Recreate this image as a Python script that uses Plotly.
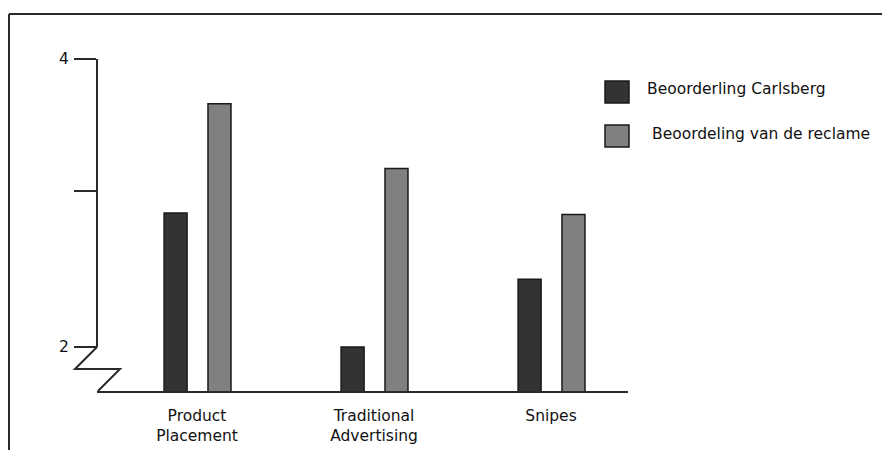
import plotly.graph_objects as go

# Ratings per placement type
categories = ["Product<br>Placement", "Traditional<br>Advertising", "Snipes"]
carlsberg = [2.93, 2.0, 2.47]
reclame = [3.69, 3.24, 2.92]
series_names = ["Beoorderling Carlsberg", "Beoordeling van de reclame"]
tick_values = [2, 3.08, 4]
tick_labels = ["2", "", "4"]

W, H = 882, 450
L, R, T, B = 97, 628, 59, 391   # plot area in pixels
Y_MIN, Y_MAX = 1.694, 4.0

DARK = "#333333"
MID = "#808080"
EDGE = "#1a1a1a"
LINE = "#2a2a2a"
FONT = "DejaVu Sans"
TEXT_SIZE = 15.5


def px(x):
    return (x - L) / (R - L)


def py(y):
    return (B - y) / (B - T)


x_pos = list(range(len(categories)))

fig = go.Figure()
fig.add_trace(go.Bar(
    x=x_pos, y=carlsberg, name=series_names[0], width=0.13, offset=-0.186,
    marker=dict(color=DARK, line=dict(color=EDGE, width=1.5)), showlegend=False,
))
fig.add_trace(go.Bar(
    x=x_pos, y=reclame, name=series_names[1], width=0.13, offset=0.062,
    marker=dict(color=MID, line=dict(color=EDGE, width=1.5)), showlegend=False,
))

shapes = []
# outer frame (top and left edges)
shapes.append(dict(type="line", xref="paper", yref="paper",
                   x0=px(9), x1=px(W + 5), y0=py(14), y1=py(14),
                   line=dict(color=LINE, width=2)))
shapes.append(dict(type="line", xref="paper", yref="paper",
                   x0=px(9), x1=px(9), y0=py(14), y1=py(H + 5),
                   line=dict(color=LINE, width=2)))
# value axis from 2 to 4
shapes.append(dict(type="line", xref="paper", yref="y",
                   x0=0, x1=0, y0=tick_values[0], y1=tick_values[-1],
                   line=dict(color=LINE, width=2)))
# axis break zigzag down to the baseline
zig = [(97, 347), (75, 369), (120, 369), (98, 391)]
path = "M " + " L ".join(f"{px(a):.5f},{py(b):.5f}" for a, b in zig)
shapes.append(dict(type="path", xref="paper", yref="paper", path=path,
                   line=dict(color=LINE, width=2)))

# legend boxes and labels
legend_rows = [(81, 103, DARK, 645, 89), (125, 147, MID, 650, 134)]
annotations = []
for (top, bot, col, tx, ty), name in zip(legend_rows, series_names):
    shapes.append(dict(type="rect", xref="paper", yref="paper",
                       x0=px(605), x1=px(629), y0=py(bot), y1=py(top),
                       fillcolor=col, line=dict(color=EDGE, width=1.5)))
    annotations.append(dict(xref="paper", yref="paper", x=px(tx), y=py(ty),
                            xanchor="left", yanchor="middle", showarrow=False,
                            text=name, font=dict(family=FONT, size=TEXT_SIZE, color="#111111")))

fig.update_layout(
    width=W, height=H,
    margin=dict(l=L, r=W - R, t=T, b=H - B, autoexpand=False),
    paper_bgcolor="white", plot_bgcolor="white",
    shapes=shapes, annotations=annotations,
    font=dict(family=FONT, size=TEXT_SIZE, color="#111111"),
    xaxis=dict(range=[-0.565, 2.435], tickvals=x_pos, ticktext=categories,
               showgrid=False, zeroline=False, showline=True,
               linecolor=LINE, linewidth=2, ticks="", ticklabelstandoff=9,
               automargin=False, fixedrange=True),
    yaxis=dict(range=[Y_MIN, Y_MAX], tickvals=tick_values, ticktext=tick_labels,
               showgrid=False, zeroline=False, showline=False,
               ticks="outside", ticklen=22, tickwidth=2, tickcolor=LINE,
               ticklabelstandoff=2, automargin=False, fixedrange=True),
)

fig.write_html("out.html")
